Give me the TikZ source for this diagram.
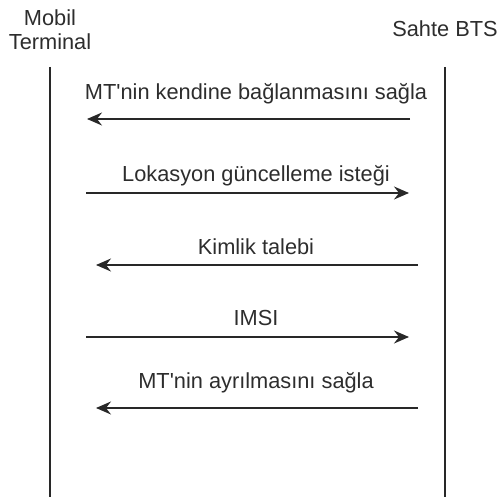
\documentclass[tikz,border=0pt]{standalone}
\usepackage{fontspec}
\setmainfont{Liberation Sans}
\usetikzlibrary{positioning,arrows.meta}
\definecolor{LineGray}{RGB}{40,40,40}
\definecolor{TextGray}{RGB}{45,45,45}

\begin{document}
\begin{tikzpicture}[
    x=0.02cm,
    y=-0.02cm,
    font=\fontsize{12.4}{14.2}\selectfont,
    >={Stealth[length=3.0mm,width=2.6mm,inset=1.0mm]},
    actor/.style={
        align=center,
        text=TextGray,
        inner sep=0pt
    },
    lifeline/.style={
        draw=LineGray,
        line width=0.8pt
    },
    msg/.style={
        ->,
        draw=LineGray,
        line width=0.9pt
    },
    msglabel/.style={
        text=TextGray,
        inner sep=0pt,
        anchor=base
    }
]
\useasboundingbox (0,0) rectangle (497,499);

% actors
\node[actor, anchor=base] (mt) at (50,50) {Mobil\\Terminal};
\node[actor, anchor=base] (bts) at (445,37) {Sahte BTS};

% lifelines
\coordinate (mttop) at (50,67);
\coordinate (mtbot) at (50,497);
\coordinate (btstop) at (445,67);
\coordinate (btsbot) at (445,497);
\draw[lifeline] (mttop) -- (mtbot);
\draw[lifeline] (btstop) -- (btsbot);

% message end points
\coordinate (m1s) at (410,119);
\coordinate (m1e) at (87,119);
\coordinate (m2s) at (86,193);
\coordinate (m2e) at (409,193);
\coordinate (m3s) at (418,265);
\coordinate (m3e) at (96,265);
\coordinate (m4s) at (86,337);
\coordinate (m4e) at (409,337);
\coordinate (m5s) at (418,408);
\coordinate (m5e) at (96,408);

% messages
\draw[msg] (m1s) -- (m1e);
\node[msglabel] (l1) at (256,100) {MT\textquotesingle nin kendine bağlanmasını sağla};
\draw[msg] (m2s) -- (m2e);
\node[msglabel] (l2) at (256,182) {Lokasyon güncelleme isteği};
\draw[msg] (m3s) -- (m3e);
\node[msglabel] (l3) at (256,255) {Kimlik talebi};
\draw[msg] (m4s) -- (m4e);
\node[msglabel] (l4) at (256,325) {IMSI};
\draw[msg] (m5s) -- (m5e);
\node[msglabel] (l5) at (256,388) {MT\textquotesingle nin ayrılmasını sağla};

\end{tikzpicture}
\end{document}
